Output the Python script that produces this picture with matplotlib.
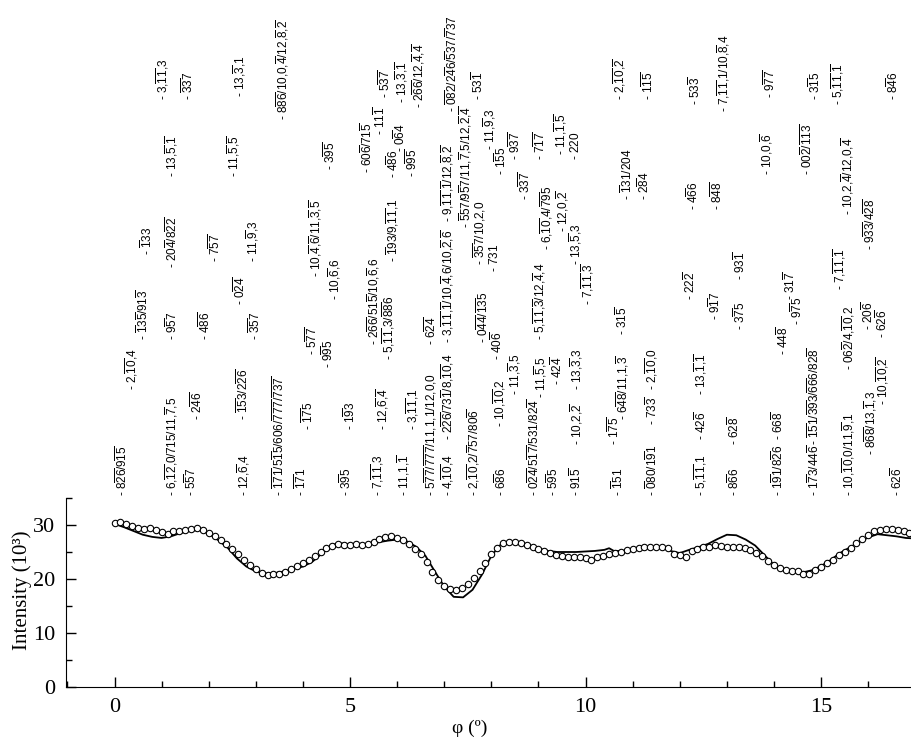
import matplotlib
matplotlib.use('Agg')
import matplotlib.pyplot as plt
import matplotlib.transforms as mtransforms
from matplotlib.ticker import MultipleLocator
from matplotlib import font_manager

# measured intensity (circles)
obs_phi = [0.0, 0.125, 0.25, 0.375, 0.5, 0.625, 0.75, 0.875,
           1.0, 1.125, 1.25, 1.375, 1.5, 1.625, 1.75, 1.875,
           2.0, 2.125, 2.25, 2.375, 2.5, 2.625, 2.75, 2.875,
           3.0, 3.125, 3.25, 3.375, 3.5, 3.625, 3.75, 3.875,
           4.0, 4.125, 4.25, 4.375, 4.5, 4.625, 4.75, 4.875,
           5.0, 5.125, 5.25, 5.375, 5.5, 5.625, 5.75, 5.875,
           6.0, 6.125, 6.25, 6.375, 6.5, 6.625, 6.75, 6.875,
           7.0, 7.125, 7.25, 7.375, 7.5, 7.625, 7.75, 7.875,
           8.0, 8.125, 8.25, 8.375, 8.5, 8.625, 8.75, 8.875,
           9.0, 9.125, 9.25, 9.375, 9.5, 9.625, 9.75, 9.875,
           10.0, 10.125, 10.25, 10.375, 10.5, 10.625, 10.75, 10.875,
           11.0, 11.125, 11.25, 11.375, 11.5, 11.625, 11.75, 11.875,
           12.0, 12.125, 12.25, 12.375, 12.5, 12.625, 12.75, 12.875,
           13.0, 13.125, 13.25, 13.375, 13.5, 13.625, 13.75, 13.875,
           14.0, 14.125, 14.25, 14.375, 14.5, 14.625, 14.75, 14.875,
           15.0, 15.125, 15.25, 15.375, 15.5, 15.625, 15.75, 15.875,
           16.0, 16.125, 16.25, 16.375, 16.5, 16.625, 16.75, 16.875, 17.0]
obs_int = [30.3, 30.5, 30.1, 29.8, 29.5, 29.3, 29.4, 29.1,
           28.7, 28.4, 28.8, 28.9, 29.0, 29.2, 29.4, 29.0,
           28.6, 28.0, 27.3, 26.5, 25.6, 24.6, 23.6, 22.6,
           21.8, 21.2, 20.8, 20.9, 21.0, 21.3, 21.8, 22.4,
           23.0, 23.6, 24.2, 25.0, 25.8, 26.2, 26.5, 26.3,
           26.3, 26.4, 26.3, 26.4, 26.9, 27.4, 27.7, 27.9,
           27.6, 27.2, 26.4, 25.6, 24.6, 23.2, 21.3, 19.9,
           18.7, 18.2, 18.0, 18.3, 19.1, 20.2, 21.4, 23.0,
           24.6, 25.8, 26.6, 26.8, 26.8, 26.6, 26.3, 25.9,
           25.6, 25.1, 24.8, 24.5, 24.3, 24.1, 24.0, 24.0,
           23.8, 23.6, 24.0, 24.3, 24.6, 24.8, 25.0, 25.3,
           25.5, 25.7, 25.9, 26.0, 26.0, 26.0, 25.7, 24.6,
           24.4, 24.0, 25.2, 25.6, 25.9, 26.0, 26.3, 26.1,
           25.9, 26.0, 25.9, 25.8, 25.4, 24.9, 24.2, 23.3,
           22.6, 22.0, 21.6, 21.5, 21.4, 20.9, 21.0, 21.6,
           22.2, 22.9, 23.6, 24.4, 25.0, 25.8, 26.6, 27.4,
           28.2, 28.8, 29.1, 29.2, 29.2, 29.1, 28.9, 28.6, 28.3]

# calculated intensity (line)
calc_phi = [0.0, 0.2, 0.4, 0.6, 0.8, 1.0, 1.2, 1.4, 1.6, 1.8,
            2.0, 2.2, 2.4, 2.6, 2.8, 3.0, 3.2, 3.4, 3.6, 3.8,
            4.0, 4.2, 4.4, 4.6, 4.8, 5.0, 5.2, 5.4, 5.6, 5.8,
            6.0, 6.2, 6.4, 6.6, 6.8, 7.0, 7.2, 7.4, 7.6, 7.8,
            8.0, 8.2, 8.4, 8.6, 8.8, 9.0, 9.2, 9.4, 9.6, 9.8,
            10.0, 10.2, 10.4, 10.5, 10.6, 10.8, 11.0, 11.2, 11.4, 11.6,
            11.8, 12.0, 12.2, 12.4, 12.6, 12.8, 13.0, 13.2, 13.4, 13.6,
            13.8, 14.0, 14.2, 14.4, 14.6, 14.8, 15.0, 15.2, 15.4, 15.6,
            15.8, 16.0, 16.2, 16.4, 16.6, 16.8, 17.0]
calc_int = [30.2, 29.6, 28.9, 28.2, 27.8, 27.6, 27.9, 28.5, 28.9, 29.1,
            28.4, 27.2, 25.8, 23.8, 22.3, 21.4, 21.0, 21.1, 21.4, 21.9,
            22.3, 23.2, 24.7, 26.3, 26.6, 26.4, 26.4, 26.5, 26.8, 27.1,
            27.3, 27.0, 26.0, 24.3, 21.4, 18.6, 16.7, 16.6, 18.0, 20.8,
            24.3, 26.4, 26.8, 26.7, 26.3, 25.6, 25.2, 25.0, 25.0, 25.0,
            25.1, 25.2, 25.4, 25.7, 25.2, 25.2, 25.4, 25.6, 25.8, 25.9,
            25.2, 24.8, 25.4, 25.9, 26.5, 27.4, 28.2, 28.1, 27.3, 26.2,
            24.4, 22.6, 21.6, 21.2, 21.2, 21.6, 22.4, 23.5, 24.8, 25.8,
            26.8, 27.7, 28.3, 28.1, 27.9, 27.6, 27.5]

# reflections: phi position and indices ("_" = bar over next digit / {group})
refl_phi = [0.16, 0.37, 0.61, 0.69, 1.01, 1.22, 1.22, 1.22, 1.22, 1.56,
            1.62, 1.75, 1.92, 2.13, 2.52, 2.66, 2.66, 2.73, 2.73, 2.94,
            2.98, 3.49, 3.56, 3.96, 4.11, 4.19, 4.26, 4.53, 4.58, 4.68,
            4.92, 5.00, 5.36, 5.49, 5.59, 5.64, 5.70, 5.81, 5.91, 5.91,
            5.74, 6.06, 6.13, 6.10, 6.46, 6.32, 6.32, 6.70, 6.72, 7.06,
            7.06, 7.08, 7.08, 7.17, 7.45, 7.72, 7.63, 7.74, 7.82, 8.06,
            7.97, 8.12, 8.18, 8.21, 8.21, 8.50, 8.50, 8.72, 8.91, 9.05,
            9.03, 9.03, 9.40, 9.18, 9.52, 9.31, 9.46, 9.78, 9.78, 9.80,
            9.80, 9.80, 10.05, 10.69, 10.60, 10.78, 10.78, 10.73, 10.88, 11.25,
            11.33, 11.41, 11.41, 11.41, 12.22, 12.28, 12.33, 12.45, 12.45, 12.45,
            12.75, 12.79, 12.92, 13.15, 13.15, 13.28, 13.28, 13.85, 13.92, 14.09,
            14.09, 14.20, 14.34, 14.50, 14.70, 14.85, 14.85, 14.87, 15.34, 15.40,
            15.57, 15.59, 15.59, 16.00, 16.04, 16.04, 16.30, 16.30, 16.53, 16.62]
refl_hkl = ['8_2_6/9_1_5', '2,_{10},4', '_13_5/91_3', '_133', '3,_{11},3',
            '6,_{12},0/715/11,_7,5', '9_57', '20_4/8_2_2', '13,_5,_1', '_3_37',
            '5_57', '2_4_6', '4_8_6', '7_5_7', '11,_5,_5',
            '0_2_4', '13,_3,1', '12,_6,4', '_1_53/2_2_6', '11,_9,3',
            '_3_57', '_1_7_1/5_15/606/_7_7_7/_7_3_7', '8_8_6/10,0,_4/12,_8,_2', '_1_71', '_1_75',
            '5_7_7', '10,_4,_6/11,_3,_5', '9_95', '3_9_5', '10,_6,6',
            '3_95', '1_93', '60_6/71_5', '2_6_6/51_5/10,_6,6', '7,_{11},3',
            '11_1', '12,_6,_4', '5,_{11},3/_8_86', '_193/9,_{11},1', '4_86',
            '5_3_7', '0_64', '11,1,_1', '13,_3,_1', '2_6_6/12,_4,_4',
            '3,_{11},1', '9_9_5', '5_7_7/_7_7_7/11,1,1/12,0,0', '6_2_4', '4,_{10},4',
            '2_2_6/73_1/8,_{10},4', '3,_{11},_1/10,_4,6/10,_2,_6', '9,_{11},_1/12,_8,_2',
            '_0_82/2_46/_537/_737', '_557/9_57/11,_7,5/12,_2,_4',
            '53_1', '2,_{10},2/_757/80_6', '_3_57/10,2,0', '0_4_4/_1_35', '731',
            '11,_9,3', '40_6', '10,_{10},2', '6_86', '1_55',
            '11,_3,5', '9_3_7', '3_3_7', '0_2_4/5_1_7/531/82_4', '11,_5,5',
            '5,_{11},_3/12,_4,4', '7_1_7', '42_4', '6,_{10},4/_7_95', '12,0,_2',
            '5_95', '11,_1,_5', '13,_5,3', '220', '91_5',
            '10,2,_2', '13,_3,3', '7,_{11},_3', '_151', '1_7_5',
            '6_4_8/11,1,_3', '31_5', '2,_{10},_2', '_131/204', '2_84',
            '1_1_5', '_080/1_91', '73_3', '2,_{10},0', '22_2',
            '4_66', '53_3', '5,_{11},1', '42_6', '13,_1,_1',
            '9_17', '8_4_8', '7,_{11},1/10,_8,4', '8_66', '62_8',
            '3_75', '93_1', '10,0,_6', '9_7_7', '1_91/8_26',
            '66_8', '44_8', '31_7', '9_75', '00_2/_1_1_3',
            '1_73/44_6', '_1_51/_3_93/_6_66/82_8', '3_15', '5,_{11},_1', '7,_{11},_1',
            '10,2,_4/12,0,_4', '10,_{10},0/11,_9,1', '06_2/4,_{10},2', '20_6', '9_3_3/4_2_8',
            '8_6_8/13,_1,3', '10,_{10},_2', '62_6', '8_46', '62_6']
# layout: bottom of each label, in pixels from the top of the figure
refl_base = [496, 390, 340, 255, 100, 496, 340, 268, 177, 100,
             496, 420, 340, 262, 177, 305, 97, 496, 420, 262,
             340, 496, 120, 496, 430, 355, 277, 368, 170, 300,
             496, 430, 173, 345, 496, 135, 430, 360, 262, 178,
             98, 152, 496, 103, 108, 430, 177, 496, 345, 496,
             440, 343, 222, 112, 228, 100, 496, 265, 343, 272,
             150, 360, 427, 496, 175, 395, 160, 200, 496, 398,
             340, 160, 385, 250, 232, 496, 155, 265, 160, 496,
             445, 390, 305, 496, 445, 420, 335, 100, 200, 200,
             100, 496, 425, 390, 300, 210, 105, 496, 440, 395,
             320, 210, 112, 496, 445, 330, 280, 175, 98, 496,
             440, 355, 300, 325, 175, 496, 445, 100, 105, 290,
             215, 496, 370, 330, 250, 455, 405, 338, 100, 496]

W, H = 912, 742
installed = {f.name for f in font_manager.fontManager.ttflist}
lab_font = 'Liberation Sans Narrow' if 'Liberation Sans Narrow' in installed else 'Liberation Sans'

plt.rcParams['font.family'] = 'Liberation Serif'
plt.rcParams['mathtext.fontset'] = 'custom'
plt.rcParams['mathtext.rm'] = lab_font
plt.rcParams['mathtext.it'] = lab_font
plt.rcParams['mathtext.bf'] = lab_font


def hkl_text(s):
    out = ''
    i = 0
    while i < len(s):
        c = s[i]
        if c == '_':
            if s[i + 1] == '{':
                j = s.index('}', i)
                out += r'\overline{' + s[i + 2:j] + '}'
                i = j + 1
            else:
                out += r'\overline{' + s[i + 1] + '}'
                i += 2
        elif c == ',':
            out += '{,}'
            i += 1
        else:
            out += c
            i += 1
    return '- $\\mathrm{' + out + '}$'


fig = plt.figure(figsize=(W / 100, H / 100), dpi=100)
ax = fig.add_axes([66 / W, 55 / H, 846 / W, 189 / H])

ax.plot(calc_phi, calc_int, color='black', lw=1.3, zorder=2)
ax.plot(obs_phi, obs_int, 'o', ms=4.6, mfc='white', mec='black', mew=0.8, zorder=3)

ax.set_xlim(-1.03, 16.93)
ax.set_ylim(0, 35)
ax.spines['top'].set_visible(False)
ax.spines['right'].set_visible(False)
ax.set_xticks([0, 5, 10, 15])
ax.set_yticks([0, 10, 20, 30])
ax.xaxis.set_minor_locator(MultipleLocator(1))
ax.yaxis.set_minor_locator(MultipleLocator(5))
ax.tick_params(which='both', direction='in', width=1, labelsize=16)
ax.tick_params(which='major', length=7, pad=8)
ax.tick_params(which='minor', length=4)

fig.text(22 / W, 1 - 590 / H, 'Intensity (10³)', rotation=90,
         ha='center', va='center', fontsize=15)
fig.text(470 / W, 1 - 728 / H, 'φ (º)', ha='center', va='center', fontsize=14)

trans = mtransforms.blended_transform_factory(ax.transData, fig.transFigure)
for phi, lab, yb in zip(refl_phi, refl_hkl, refl_base):
    ax.text(phi, 1 - yb / H, hkl_text(lab), transform=trans, rotation=90,
            ha='center', va='bottom', fontsize=8.5, fontfamily=lab_font,
            clip_on=False)

fig.savefig('out.png', dpi=100)
